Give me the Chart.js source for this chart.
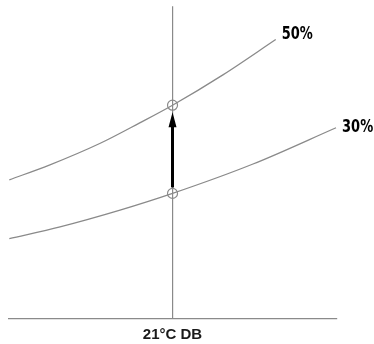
<!DOCTYPE html>
<html lang="en">
<head>
  <meta charset="UTF-8">
  <title>Relative humidity at 21°C DB</title>
  <script src="https://cdn.jsdelivr.net/npm/chart.js"></script>
  <style>
    body {
      margin: 0;
      background: #fff;
    }
  </style>
</head>
<body>
  <canvas id="rhChart" width="374" height="344"></canvas>

  <script>
    // dry bulb (°C) and moisture content
    const dryBulb50 = [10.8, 13.3, 16.45, 18.95, 21.0, 24.15, 27.45];
    const moisture50 = [8.90, 9.84, 11.22, 12.54, 13.67, 15.61, 17.87];
    const dryBulb30 = [10.8, 13.97, 17.72, 21.0, 26.03, 31.22];
    const moisture30 = [5.14, 5.89, 6.96, 8.03, 9.91, 12.23];
    const curveLabels = ["50%", "30%"];
    const markTemp = 21;
    const xTickLabel = "21°C DB";

    const lineGrey = "#8a8a8a";

    const toPoints = (xs, ys) => xs.map((x, i) => ({ x: x, y: ys[i] }));
    const atMark = (xs, ys) => ys[xs.indexOf(markTemp)];

    const curveStyle = {
      showLine: true,
      borderColor: lineGrey,
      borderWidth: 1.3,
      pointRadius: 0,
      cubicInterpolationMode: "monotone",
      fill: false
    };

    // arrow from 30% up to 50%, and the curve end labels
    const overlay = {
      id: "overlay",
      afterDatasetsDraw(chart) {
        const ctx = chart.ctx;
        const xs = chart.scales.x, ys = chart.scales.y;
        const px = xs.getPixelForValue(markTemp);
        const yLow = ys.getPixelForValue(atMark(dryBulb30, moisture30)) - 6;
        const yTop = ys.getPixelForValue(atMark(dryBulb50, moisture50)) + 7;

        ctx.save();
        ctx.strokeStyle = "#000";
        ctx.fillStyle = "#000";
        ctx.lineWidth = 3;
        ctx.beginPath();
        ctx.moveTo(px, yLow);
        ctx.lineTo(px, yTop + 12);
        ctx.stroke();
        ctx.beginPath();
        ctx.moveTo(px, yTop);
        ctx.lineTo(px - 4, yTop + 15);
        ctx.lineTo(px + 4, yTop + 15);
        ctx.closePath();
        ctx.fill();

        // condensed heavy labels
        ctx.font = "bold 17px 'DejaVu Sans Condensed'";
        ctx.textBaseline = "middle";
        const ends = [
          { d: 0, dy: -5 },
          { d: 1, dy: 0 }
        ];
        ends.forEach(e => {
          const meta = chart.getDatasetMeta(e.d);
          const last = meta.data[meta.data.length - 1];
          ctx.save();
          ctx.translate(last.x + 6, last.y + e.dy);
          ctx.scale(0.85, 1);
          ctx.fillText(curveLabels[e.d], 0, 0);
          ctx.restore();
        });
        ctx.restore();
      }
    };

    new Chart(document.getElementById("rhChart"), {
      type: "scatter",
      data: {
        datasets: [
          { ...curveStyle, label: curveLabels[0], data: toPoints(dryBulb50, moisture50) },
          { ...curveStyle, label: curveLabels[1], data: toPoints(dryBulb30, moisture30) },
          {
            label: "state points",
            data: [
              { x: markTemp, y: atMark(dryBulb50, moisture50) },
              { x: markTemp, y: atMark(dryBulb30, moisture30) }
            ],
            showLine: false,
            pointRadius: 5,
            pointBorderWidth: 1.2,
            pointBorderColor: lineGrey,
            pointBackgroundColor: "rgba(0,0,0,0)"
          }
        ]
      },
      options: {
        responsive: false,
        animation: false,
        layout: { padding: { left: 9, right: 37, top: 0, bottom: 0 } },
        plugins: {
          legend: { display: false },
          tooltip: { enabled: false }
        },
        scales: {
          x: {
            type: "linear",
            min: 10.78,
            max: 31.28,
            afterBuildTicks: scale => { scale.ticks = [{ value: markTemp }]; },
            afterFit: scale => { scale.height = 25; },
            ticks: {
              callback: () => xTickLabel,
              color: "#1a1a1a",
              padding: 7,
              maxRotation: 0,
              font: { family: "'Liberation Sans', Arial", size: 15, weight: "bold" }
            },
            grid: {
              color: lineGrey,
              lineWidth: 1.2,
              drawTicks: false
            },
            border: { color: lineGrey, width: 1.2 }
          },
          y: {
            display: false,
            min: 0,
            max: 20
          }
        }
      },
      plugins: [overlay]
    });
  </script>
</body>
</html>
